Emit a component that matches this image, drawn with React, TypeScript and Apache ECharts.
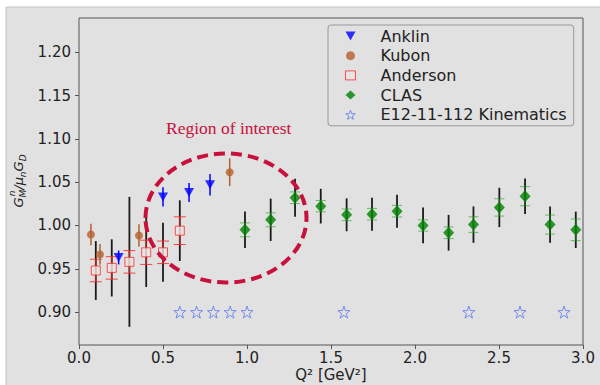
import React, { useEffect, useRef } from "react";
import * as echarts from "echarts";

// ---- data ----
const anklinX = [0.236, 0.5, 0.655, 0.78];
const anklinY = [0.963, 1.033, 1.038, 1.047];
const anklinErr = [0.008, 0.011, 0.011, 0.0125];

const kubonX = [0.071, 0.125, 0.357, 0.897];
const kubonY = [0.9896, 0.9666, 0.9885, 1.0615];
const kubonErr = [0.0125, 0.012, 0.013, 0.016];

const andersonX = [0.1, 0.195, 0.3, 0.4, 0.5, 0.6];
const andersonY = [0.948, 0.951, 0.958, 0.969, 0.969, 0.994];
const andersonStat = [0.013, 0.013, 0.013, 0.014, 0.013, 0.016];
const andersonTot = [0.034, 0.033, 0.075, 0.04, 0.034, 0.035];

const clasX = [0.988, 1.141, 1.286, 1.439, 1.593, 1.744, 1.893, 2.048, 2.2, 2.348, 2.502, 2.655, 2.804, 2.957];
const clasY = [0.995, 1.0065, 1.032, 1.0223, 1.0123, 1.013, 1.0165, 1.0, 0.9916, 1.001, 1.0208, 1.0338, 1.001, 0.995];
const clasStat = [0.008, 0.008, 0.0067, 0.0065, 0.0067, 0.0067, 0.0067, 0.0065, 0.0067, 0.009, 0.01, 0.011, 0.011, 0.0125];
const clasTot = [0.021, 0.0245, 0.022, 0.02, 0.019, 0.019, 0.019, 0.0206, 0.0206, 0.021, 0.0227, 0.0205, 0.021, 0.021];

const kinX = [0.6, 0.7, 0.8, 0.9, 1.0, 1.577, 2.32, 2.625, 2.887];
const kinY = [0.9, 0.9, 0.9, 0.9, 0.9, 0.9, 0.9, 0.9, 0.9];

const yTicks = [0.9, 0.95, 1.0, 1.05, 1.1, 1.15, 1.2];
const legendNames = ["Anklin", "Kubon", "Anderson", "CLAS", "E12-11-112 Kinematics"];
const xTitle = "Q² [GeV²]";

const STAR =
  "path://M0,-10 L2.35,-3.24 L9.51,-3.09 L3.8,1.24 L5.88,8.09 L0,4 L-5.88,8.09 L-3.8,1.24 L-9.51,-3.09 L-2.35,-3.24 Z";
const TRI_DOWN = "path://M0,0 L10,0 L5,9 Z";

function errSeries(name: string, xs: number[], ys: number[], errs: number[], color: string, width: number, cap: number, z: number) {
  return {
    type: "custom",
    name,
    silent: true,
    z,
    data: xs.map((x, i) => [x, ys[i] - errs[i], ys[i] + errs[i]]),
    encode: { x: 0, y: [1, 2] },
    renderItem: (_p: any, api: any) => {
      const lo = api.coord([api.value(0), api.value(1)]);
      const hi = api.coord([api.value(0), api.value(2)]);
      const style = { stroke: color, lineWidth: width };
      const children: any[] = [
        { type: "line", shape: { x1: lo[0], y1: lo[1], x2: hi[0], y2: hi[1] }, style },
      ];
      if (cap > 0) {
        children.push({ type: "line", shape: { x1: lo[0] - cap, y1: lo[1], x2: lo[0] + cap, y2: lo[1] }, style });
        children.push({ type: "line", shape: { x1: hi[0] - cap, y1: hi[1], x2: hi[0] + cap, y2: hi[1] }, style });
      }
      return { type: "group", children };
    },
  };
}

const pts = (xs: number[], ys: number[]) => xs.map((x, i) => [x, ys[i]]);

export default function App() {
  const ref = useRef<HTMLDivElement>(null);
  useEffect(() => {
    const chart = echarts.init(ref.current!, null, { renderer: "svg" });
    const font = "DejaVu Sans";
    chart.setOption({
      animation: false,
      backgroundColor: "#ffffff",
      textStyle: { fontFamily: font },
      grid: {
        left: 79,
        right: 17,
        top: 18,
        bottom: 40,
        containLabel: false,
        outerBoundsMode: "none",
        show: true,
        borderColor: "#555",
        borderWidth: 1,
        backgroundColor: "transparent",
      },
      xAxis: {
        type: "value",
        min: 0,
        max: 3,
        interval: 0.5,
        axisLine: { show: false },
        axisTick: { show: true, inside: false, length: 4, lineStyle: { color: "#555" } },
        axisLabel: { fontFamily: font, fontSize: 15, color: "#222", margin: 5, formatter: (v: number) => v.toFixed(1) },
        splitLine: { show: false },
      },
      yAxis: {
        type: "value",
        min: 0.862,
        max: 1.2395,
        axisLine: { show: false },
        axisTick: { show: true, inside: false, length: 4, lineStyle: { color: "#555" }, customValues: yTicks },
        axisLabel: {
          fontFamily: font,
          fontSize: 15,
          color: "#222",
          margin: 8,
          customValues: yTicks,
          formatter: (v: number) => v.toFixed(2),
        },
        splitLine: { show: false },
      },
      legend: {
        orient: "vertical",
        left: 328,
        top: 25,
        padding: [3, 7, 3, 17],
        itemGap: 3.7,
        itemWidth: 10,
        itemHeight: 9,
        borderColor: "#999",
        borderWidth: 1,
        borderRadius: 3,
        backgroundColor: "transparent",
        selectedMode: false,
        textStyle: { fontFamily: font, fontSize: 16, color: "#222", lineHeight: 16, padding: [0, 0, 0, 20] },
        data: [
          { name: legendNames[0], icon: TRI_DOWN, itemStyle: { color: "#0000ff" } },
          { name: legendNames[1], icon: "circle", itemStyle: { color: "#b5602c" } },
          { name: legendNames[2], icon: "rect", itemStyle: { color: "#ebe3e3", borderColor: "#ff2a2a", borderWidth: 1 } },
          { name: legendNames[3], icon: "diamond", itemStyle: { color: "#008000" } },
          {
            name: legendNames[4],
            icon: STAR,
            itemStyle: { color: "rgba(0,0,0,0)", borderColor: "#5a78f0", borderWidth: 1 },
          },
        ],
      },
      graphic: [
        {
          type: "rect",
          z: -100,
          silent: true,
          shape: { x: 6, y: 7, width: 600, height: 385 },
          style: { fill: "#e1e1e1", stroke: "#c4c4c4", lineWidth: 1 },
        },
        {
          type: "ellipse",
          z: 100,
          silent: true,
          shape: { cx: 226, cy: 218, rx: 80.5, ry: 64.5 },
          style: { fill: "none", stroke: "#c8103c", lineWidth: 4, lineDash: [11, 6] },
        },
        {
          type: "text",
          z: 100,
          x: 166,
          y: 128,
          style: {
            text: "Region of interest",
            fontFamily: "Liberation Serif",
            fontSize: 17.5,
            fill: "#c8103c",
            verticalAlign: "middle",
          },
        },
        {
          type: "text",
          z: 100,
          x: 331,
          y: 374.5,
          style: {
            text: xTitle,
            fontFamily: font,
            fontSize: 15,
            fill: "#222",
            align: "center",
            verticalAlign: "middle",
          },
        },
        {
          type: "group",
          x: 18,
          y: 181,
          rotation: Math.PI / 2,
          children: [
            {
              type: "text",
              x: 0,
              y: 0,
              style: {
                text: "{m|G}{s|M}{m|/μ}{s|n}{m|G}{s|D}",
                align: "center",
                verticalAlign: "middle",
                rich: {
                  m: { fontFamily: font, fontStyle: "italic", fontSize: 13, lineHeight: 18, fill: "#222", verticalAlign: "middle" },
                  s: { fontFamily: font, fontStyle: "italic", fontSize: 9, lineHeight: 9, fill: "#222", verticalAlign: "bottom" },
                },
              },
            },
            {
              type: "text",
              x: -12.5,
              y: -6,
              style: {
                text: "n",
                fontFamily: font,
                fontStyle: "italic",
                fontSize: 9,
                fill: "#222",
                align: "center",
                verticalAlign: "middle",
              },
            },
          ],
        },
      ],
      series: [
        errSeries("_andTot", andersonX, andersonY, andersonTot, "#1a1a1a", 1.8, 0, 2),
        errSeries("_clasTot", clasX, clasY, clasTot, "#1a1a1a", 1.8, 0, 2),
        errSeries("_andStat", andersonX, andersonY, andersonStat, "rgba(255,40,40,0.85)", 1, 6, 3),
        errSeries("_clasStat", clasX, clasY, clasStat, "rgba(20,160,20,0.6)", 1, 5, 3),
        errSeries("_ankErr", anklinX, anklinY, anklinErr, "#0000ff", 1.5, 0, 3),
        errSeries("_kubErr", kubonX, kubonY, kubonErr, "#b5602c", 1.5, 0, 3),
        {
          type: "scatter",
          name: "Anklin",
          z: 5,
          data: pts(anklinX, anklinY),
          symbol: "triangle",
          symbolRotate: 180,
          symbolSize: [10, 9],
          itemStyle: { color: "#0000ff" },
        },
        {
          type: "scatter",
          name: "Kubon",
          z: 5,
          data: pts(kubonX, kubonY),
          symbol: "circle",
          symbolSize: 8,
          itemStyle: { color: "#b5602c" },
        },
        {
          type: "scatter",
          name: "Anderson",
          z: 5,
          data: pts(andersonX, andersonY),
          symbol: "rect",
          symbolSize: 9,
          itemStyle: { color: "#ebe3e3", borderColor: "#ff2a2a", borderWidth: 1 },
        },
        {
          type: "scatter",
          name: "CLAS",
          z: 5,
          data: pts(clasX, clasY),
          symbol: "diamond",
          symbolSize: [11, 12],
          itemStyle: { color: "#008000" },
        },
        {
          type: "scatter",
          name: "E12-11-112 Kinematics",
          z: 5,
          data: pts(kinX, kinY),
          symbol: STAR,
          symbolSize: 12,
          itemStyle: { color: "rgba(0,0,0,0)", borderColor: "#5a78f0", borderWidth: 1 },
        },
      ],
    });
    return () => chart.dispose();
  }, []);
  return (
    <div
      ref={ref}
      style={{ position: "absolute", left: 0, top: 0, width: 600, height: 385 }}
    />
  );
}
